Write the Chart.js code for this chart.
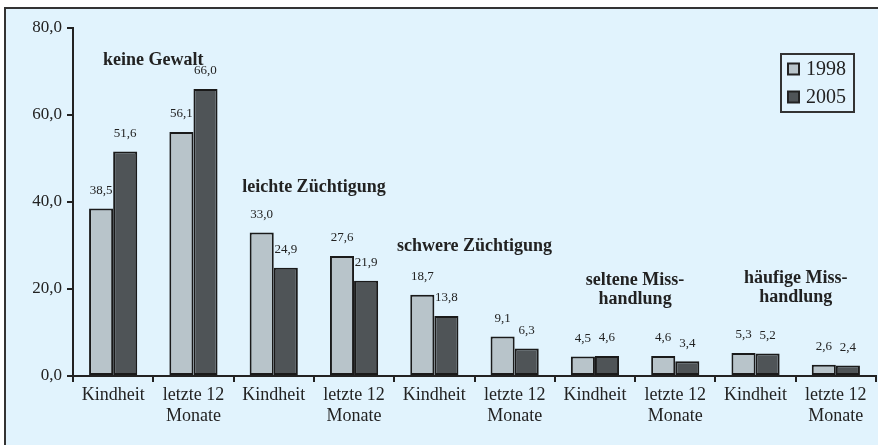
<!DOCTYPE html>
<html>
<head>
<meta charset="utf-8">
<script src="https://cdn.jsdelivr.net/npm/chart.js@4.4.1/dist/chart.umd.min.js"></script>
<style>
  body { margin: 0; background: #fff; overflow: hidden; }
  #frame { position: absolute; left: 4px; top: 7px; width: 900px; height: 460px;
           border-left: 2px solid #333; border-top: 2px solid #333; background: #e1f3fd; }
  #chart { position: absolute; left: 0; top: 0; }
</style>
</head>
<body>
<div id="frame"></div>
<canvas id="chart" width="878" height="445"></canvas>
<script>
// Daten
const categories = [
    'Kindheit', ['letzte 12', 'Monate'],
    'Kindheit', ['letzte 12', 'Monate'],
    'Kindheit', ['letzte 12', 'Monate'],
    'Kindheit', ['letzte 12', 'Monate'],
    'Kindheit', ['letzte 12', 'Monate']
];
const values1998 = [38.5, 56.1, 33.0, 27.6, 18.7, 9.1, 4.5, 4.6, 5.3, 2.6];
const values2005 = [51.6, 66.0, 24.9, 21.9, 13.8, 6.3, 4.6, 3.4, 5.2, 2.4];
const yTicks = [0, 20, 40, 60, 80];

// Gruppentitel: Text und Höhe (in Achsenwerten)
const groupTitles = [['keine Gewalt'], ['leichte Züchtigung'], ['schwere Züchtigung'],
                     ['seltene Miss-', 'handlung'], ['häufige Miss-', 'handlung']];
const groupTitleLevels = [72.6, 43.4, 29.7, 22.1, 22.5];

const fmt = v => v.toFixed(1).replace('.', ',');
const SERIF = '"Liberation Serif", "DejaVu Serif", serif';

// Werte über den Balken
const valueLabels = {
    id: 'valueLabels',
    afterDatasetsDraw(chart) {
        const ctx = chart.ctx;
        ctx.save();
        ctx.font = '13px ' + SERIF;
        ctx.fillStyle = '#222';
        ctx.textAlign = 'center';
        ctx.textBaseline = 'middle';
        chart.data.datasets.forEach((ds, i) => {
            chart.getDatasetMeta(i).data.forEach((bar, j) => {
                ctx.fillText(fmt(ds.data[j]), bar.x, bar.y - 18);
            });
        });
        ctx.restore();
    }
};

// Gruppentitel zeichnen
const groupLabels = {
    id: 'groupLabels',
    afterDatasetsDraw(chart) {
        const ctx = chart.ctx;
        const x = chart.scales.x, y = chart.scales.y;
        ctx.save();
        ctx.font = 'bold 18px ' + SERIF;
        ctx.fillStyle = '#222';
        ctx.textAlign = 'center';
        ctx.textBaseline = 'middle';
        groupTitles.forEach((lines, g) => {
            const cx = (x.getPixelForValue(2 * g) + x.getPixelForValue(2 * g + 1)) / 2;
            const cy = y.getPixelForValue(groupTitleLevels[g]);
            lines.forEach((t, k) => ctx.fillText(t, cx, cy + k * 19));
        });
        ctx.restore();
    }
};

// Legende im Kasten oben rechts
const boxLegend = {
    id: 'boxLegend',
    afterDraw(chart) {
        const ctx = chart.ctx;
        ctx.save();
        ctx.fillStyle = '#e1f3fd';
        ctx.strokeStyle = '#333';
        ctx.lineWidth = 2;
        ctx.fillRect(781, 54, 73, 58);
        ctx.strokeRect(781, 54, 73, 58);
        ctx.font = '20px ' + SERIF;
        ctx.textBaseline = 'middle';
        chart.data.datasets.forEach((ds, i) => {
            const cy = 69 + i * 28;
            ctx.fillStyle = ds.backgroundColor;
            ctx.fillRect(788, cy - 5.5, 11, 11);
            ctx.strokeStyle = '#222';
            ctx.strokeRect(788, cy - 5.5, 11, 11);
            ctx.fillStyle = '#222';
            ctx.fillText(ds.label, 806, cy + 1);
        });
        ctx.restore();
    }
};

new Chart(document.getElementById('chart'), {
    type: 'bar',
    data: {
        labels: categories,
        datasets: [
            { label: '1998', data: values1998, backgroundColor: '#b8c4ca', borderColor: '#1a1a1a', borderWidth: 2, borderSkipped: false },
            { label: '2005', data: values2005, backgroundColor: '#4f5457', borderColor: '#1a1a1a', borderWidth: 2, borderSkipped: false }
        ]
    },
    options: {
        responsive: false,
        animation: false,
        layout: { padding: { top: 28, right: 2, left: 0, bottom: 0 } },
        datasets: { bar: { categoryPercentage: 0.6, barPercentage: 1.0 } },
        plugins: { legend: { display: false }, tooltip: { enabled: false } },
        scales: {
            x: {
                grid: { offset: true, drawOnChartArea: false, tickLength: 6, color: '#222', lineWidth: 2 },
                border: { color: '#222', width: 2 },
                ticks: { font: { family: SERIF, size: 18, lineHeight: 1.15 }, color: '#222', padding: 3, maxRotation: 0, autoSkip: false },
                afterFit: s => { s.height = 69; }
            },
            y: {
                min: 0, max: 80,
                afterBuildTicks: s => { s.ticks = yTicks.map(v => ({ value: v })); },
                grid: { drawOnChartArea: false, tickLength: 6, color: '#222', lineWidth: 2 },
                border: { color: '#222', width: 2 },
                ticks: { font: { family: SERIF, size: 17 }, color: '#222', padding: 5, callback: v => fmt(v) },
                afterFit: s => { s.width = 73; }
            }
        }
    },
    plugins: [valueLabels, groupLabels, boxLegend]
});
</script>
</body>
</html>
